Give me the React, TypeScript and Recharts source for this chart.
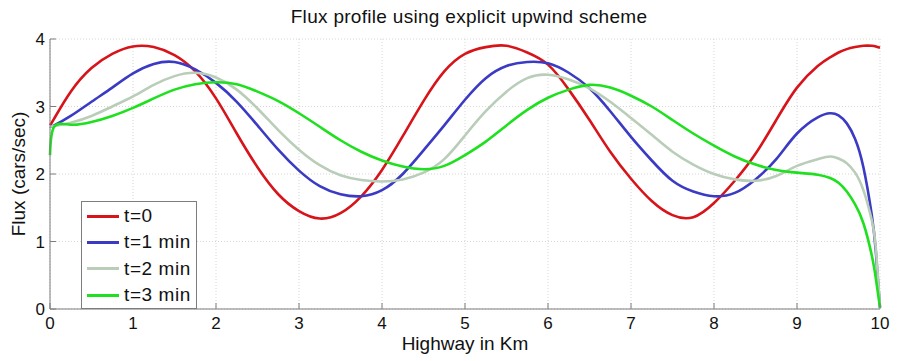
import React from "react"
import {
  LineChart,
  Line,
  XAxis,
  YAxis,
  CartesianGrid,
} from "recharts"

// distance along the highway (km)
const X_KM = [
  0, 0.05, 0.25, 0.5, 0.75, 1, 1.25, 1.5, 1.75, 2, 2.25, 2.5, 2.75, 3, 3.25, 3.5, 3.75, 4,
  4.25, 4.5, 4.75, 5, 5.25, 5.5, 5.75, 6, 6.25, 6.5, 6.75, 7, 7.25, 7.5, 7.75, 8, 8.25, 8.5,
  8.75, 9, 9.25, 9.4, 9.5, 9.6, 9.7, 9.8, 9.9, 9.95, 10,
]

// flux (cars/sec) at each time step
const FLUX_T0 = [
  2.72, 2.82, 3.22, 3.57, 3.78, 3.89, 3.88, 3.76, 3.52, 3.12, 2.6, 2.1, 1.7, 1.45, 1.34, 1.42,
  1.67, 2.06, 2.56, 3.08, 3.52, 3.78, 3.88, 3.9, 3.8, 3.62, 3.25, 2.8, 2.33, 1.93, 1.6, 1.39,
  1.36, 1.57, 1.9, 2.3, 2.8, 3.28, 3.6, 3.73, 3.8, 3.85, 3.88, 3.9, 3.9, 3.89, 3.87,
]
const FLUX_T1 = [
  2.7, 2.72, 2.86, 3.07, 3.28, 3.49, 3.63, 3.66, 3.55, 3.35, 3.07, 2.72, 2.36, 2.05, 1.82, 1.7,
  1.67, 1.76, 2.0, 2.35, 2.72, 3.1, 3.42, 3.6, 3.66, 3.64, 3.5, 3.27, 2.93, 2.55, 2.2, 1.9,
  1.74, 1.67, 1.72, 1.92, 2.22, 2.6, 2.84, 2.9, 2.87, 2.75, 2.52, 2.1, 1.4, 0.85, 0.02,
]
const FLUX_T2 = [
  2.7, 2.71, 2.76, 2.86, 3.0, 3.15, 3.32, 3.45, 3.5, 3.43, 3.25, 2.97, 2.65, 2.36, 2.13, 1.98,
  1.91, 1.89, 1.92, 2.02, 2.22, 2.57, 2.93, 3.22, 3.42, 3.47, 3.4, 3.27, 3.07, 2.83, 2.58, 2.33,
  2.14, 2.0, 1.92, 1.9, 1.97, 2.12, 2.22, 2.26, 2.23, 2.16, 2.02, 1.76, 1.32, 0.9, 0.02,
]
const FLUX_T3 = [
  2.28, 2.7, 2.73, 2.77, 2.86, 2.98, 3.12, 3.25, 3.33, 3.36, 3.33, 3.22, 3.08, 2.9, 2.7, 2.5,
  2.33, 2.2, 2.11, 2.07, 2.12, 2.28, 2.48, 2.72, 2.95, 3.13, 3.25, 3.32, 3.28, 3.16, 3.0, 2.8,
  2.6, 2.42, 2.26, 2.14, 2.06, 2.02, 1.99, 1.94, 1.87, 1.74, 1.55, 1.27, 0.8, 0.45, 0.02,
]

const X_TICKS = [0, 1, 2, 3, 4, 5, 6, 7, 8, 9, 10]
const Y_TICKS = [0, 1, 2, 3, 4]

const SERIES = [
  { key: "t0", name: "t=0", color: "#d7141a" },
  { key: "t1", name: "t=1 min", color: "#3a3ac4" },
  { key: "t2", name: "t=2 min", color: "#b9cdb9" },
  { key: "t3", name: "t=3 min", color: "#1fe01f" },
]

const data = X_KM.map((x, i) => ({
  x,
  t0: FLUX_T0[i],
  t1: FLUX_T1[i],
  t2: FLUX_T2[i],
  t3: FLUX_T3[i],
}))

const FONT = '"Liberation Sans", Arial, Helvetica, sans-serif'
const FRAME = "#7d7d7d"
const tickStyle = { fill: "#111", fontSize: 17, fontFamily: FONT }

// boxed legend in the lower-left corner of the axes
function FluxLegend() {
  return (
    <div
      style={{
        position: "absolute",
        left: 81,
        top: 201,
        width: 116,
        height: 108,
        border: `1px solid ${FRAME}`,
        background: "#fff",
        boxSizing: "border-box",
        paddingTop: 1,
        fontFamily: FONT,
        fontSize: 19,
        color: "#111",
      }}
    >
      {SERIES.map((s) => (
        <div key={s.key} style={{ display: "flex", alignItems: "center", height: 26.3 }}>
          <div style={{ width: 32, height: 3, marginLeft: 5, background: s.color }} />
          <span style={{ marginLeft: 5, letterSpacing: 0.6 }}>{s.name}</span>
        </div>
      ))}
    </div>
  )
}

export default function App() {
  return (
    <div style={{ position: "absolute", left: 0, top: 0, width: 902, height: 361, background: "#fff" }}>
      <div
        style={{
          position: "absolute",
          left: 0,
          width: 938,
          top: 6,
          textAlign: "center",
          fontFamily: FONT,
          fontSize: 19,
          color: "#111",
          letterSpacing: 0.3,
        }}
      >
        Flux profile using explicit upwind scheme
      </div>
      <LineChart width={902} height={361} data={data} margin={{ top: 39, right: 22, left: 0, bottom: 0 }}>
        <CartesianGrid stroke="#d6d6d6" strokeDasharray="1 2" horizontalValues={Y_TICKS} verticalValues={X_TICKS} />
        <XAxis
          dataKey="x"
          type="number"
          domain={[0, 10]}
          ticks={X_TICKS}
          height={52}
          stroke={FRAME}
          tickSize={-6}
          tickMargin={14}
          tick={tickStyle}
          label={{ value: "Highway in Km", position: "insideBottom", offset: 11, style: { fill: "#111", fontSize: 19, fontFamily: FONT } }}
        />
        <XAxis
          xAxisId="top"
          orientation="top"
          dataKey="x"
          type="number"
          domain={[0, 10]}
          ticks={X_TICKS}
          height={0}
          stroke={FRAME}
          tickSize={-6}
          tickFormatter={() => ""}
        />
        <YAxis
          type="number"
          domain={[0, 4]}
          ticks={Y_TICKS}
          width={50}
          stroke={FRAME}
          tickSize={-6}
          tickMargin={11}
          tick={tickStyle}
          label={{
            value: "Flux (cars/sec)",
            angle: -90,
            position: "insideLeft",
            offset: 18,
            style: { textAnchor: "middle", fill: "#111", fontSize: 19, fontFamily: FONT },
          }}
        />
        <YAxis
          yAxisId="right"
          orientation="right"
          type="number"
          domain={[0, 4]}
          ticks={Y_TICKS}
          width={0}
          stroke={FRAME}
          tickSize={-6}
          tickFormatter={() => ""}
        />
        {SERIES.map((s) => (
          <Line
            key={s.key}
            type="natural"
            dataKey={s.key}
            name={s.name}
            stroke={s.color}
            strokeWidth={2.6}
            dot={false}
            isAnimationActive={false}
          />
        ))}
      </LineChart>
      <FluxLegend />
    </div>
  )
}
